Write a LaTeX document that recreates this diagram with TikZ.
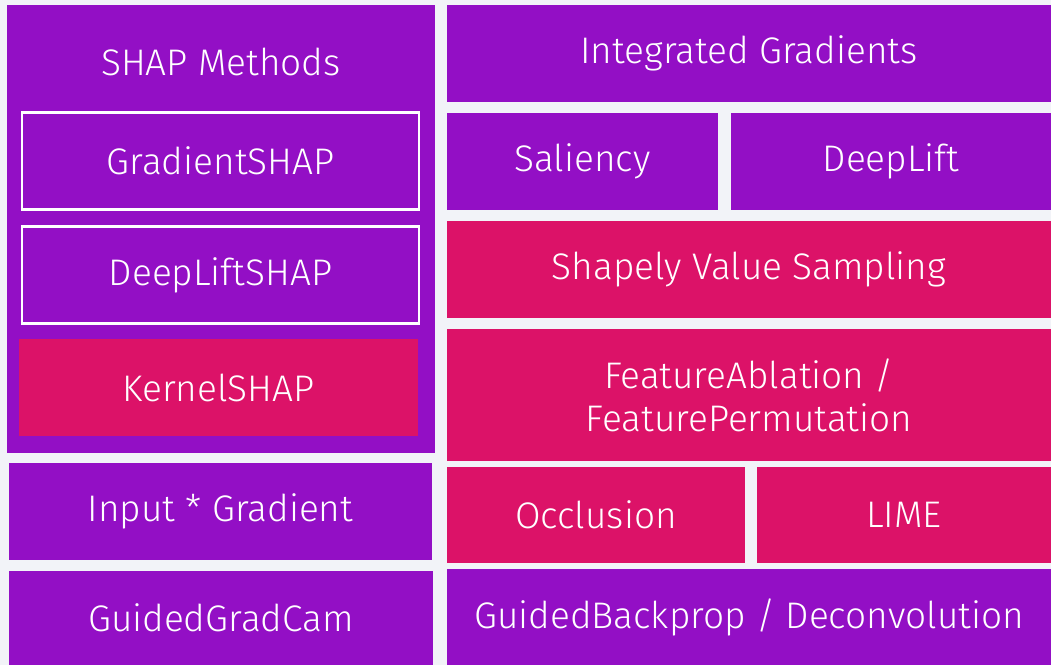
\documentclass[tikz,border=0pt]{standalone}
\usepackage{fontspec}
\setmainfont{Fira Sans Light}
\usepackage{tikz}
\usetikzlibrary{positioning}
\definecolor{captumpurple}{RGB}{147, 15, 197}
\definecolor{captumpink}{RGB}{220, 18, 104}
\definecolor{pagegray}{RGB}{242, 243, 248}

\begin{document}
\begin{tikzpicture}[x=1pt, y=-1pt,
    box/.style={rectangle, inner sep=0pt, text=white, align=center,
                font=\fontsize{37}{43}\selectfont},
    gradbox/.style={box, fill=captumpurple},
    pertbox/.style={box, fill=captumpink},
    subbox/.style={gradbox, draw=white, line width=2.4pt}]
    % page
    \fill[pagegray] (0,0) rectangle (1051,665);
    \useasboundingbox (0,0) rectangle (1051,665);

    % SHAP group on the left
    \node (shap) [gradbox, minimum width=428pt, minimum height=448pt] at (221, 229) {};
    \node (shaptitle) [box] at (221, 62) {SHAP Methods};
    \node (gshap) [subbox, minimum width=397pt, minimum height=97pt] at (220.5, 161) {GradientSHAP};
    \node (dlshap) [subbox, minimum width=397pt, minimum height=97pt] at (220.5, 275) {DeepLiftSHAP};
    \node (kshap) [pertbox, minimum width=399pt, minimum height=97pt] at (218.5, 387.5) {KernelSHAP};

    \node (ixg) [gradbox, minimum width=423pt, minimum height=97pt] at (220.5, 511.5) {Input * Gradient};
    \node (ggc) [gradbox, minimum width=424pt, minimum height=94pt] at (221, 618) {GuidedGradCam};

    % right column
    \node (ig) [gradbox, minimum width=604pt, minimum height=97pt] at (749, 53.5) {Integrated Gradients};
    \node (sal) [gradbox, minimum width=271pt, minimum height=97pt] at (582.5, 161.5) {Saliency};
    \node (dl) [gradbox, minimum width=320pt, minimum height=97pt] at (891, 161.5) {DeepLift};
    \node (svs) [pertbox, minimum width=604pt, minimum height=97pt] at (749, 269.5) {Shapely Value Sampling};
    \node (fa) [pertbox, minimum width=604pt, minimum height=132pt] at (749, 395) {FeatureAblation /\\FeaturePermutation};
    \node (occ) [pertbox, minimum width=298pt, minimum height=96pt] at (596, 515) {Occlusion};
    \node (lime) [pertbox, minimum width=294pt, minimum height=96pt] at (904, 515) {LIME};
    \node (gbp) [gradbox, minimum width=604pt, minimum height=96pt] at (749, 617) {GuidedBackprop / Deconvolution};
\end{tikzpicture}
\end{document}
